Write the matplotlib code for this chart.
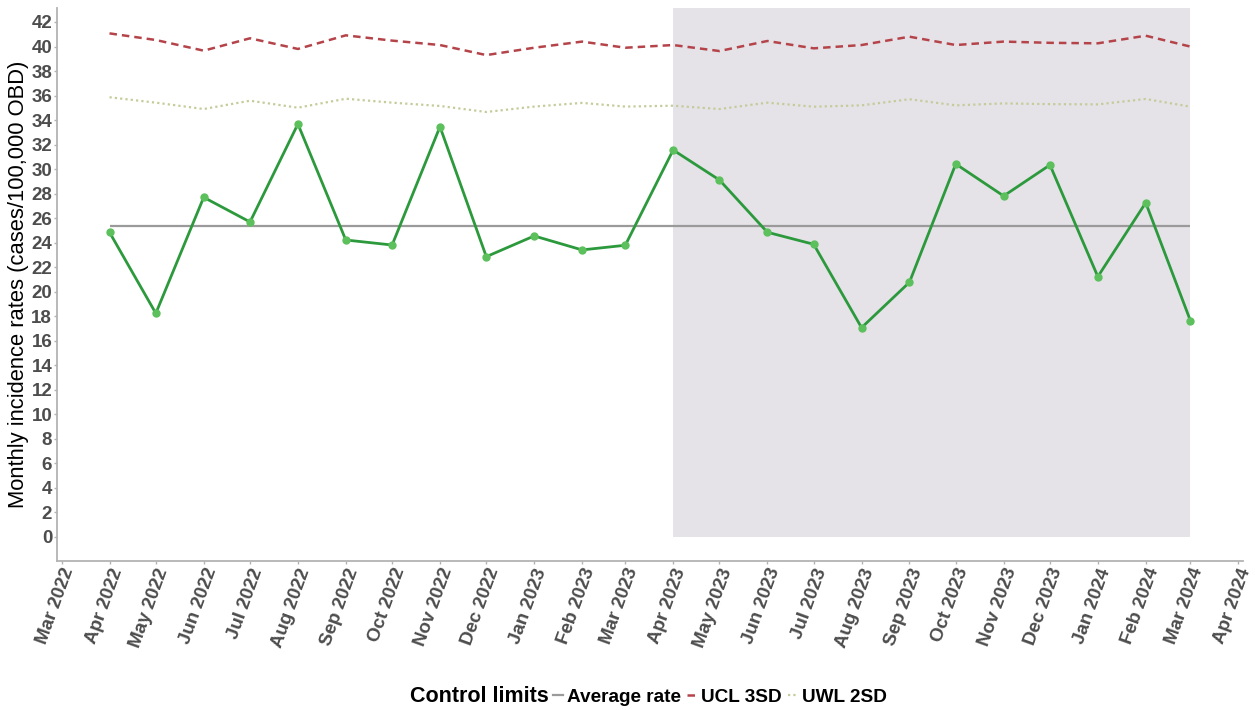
import matplotlib
matplotlib.use("Agg")
import matplotlib.pyplot as plt
import matplotlib.dates as mdates
from matplotlib.lines import Line2D
import pandas as pd

months = pd.date_range("2022-04-01", "2024-03-01", freq="MS")
incidence = [24.85, 18.24, 27.70, 25.69, 33.68, 24.22, 23.81, 33.46, 22.86, 24.55, 23.41, 23.79,
             31.56, 29.11, 24.85, 23.87, 17.07, 20.77, 30.42, 27.81, 30.34, 21.23, 27.26, 17.62]
ucl = [41.07, 40.53, 39.66, 40.67, 39.80, 40.91, 40.48, 40.12, 39.30, 39.90, 40.40, 39.90,
       40.12, 39.63, 40.45, 39.85, 40.12, 40.80, 40.12, 40.40, 40.30, 40.26, 40.88, 39.99]
uwl = [35.86, 35.42, 34.90, 35.58, 35.01, 35.74, 35.42, 35.15, 34.66, 35.10, 35.40, 35.10,
       35.17, 34.90, 35.42, 35.09, 35.20, 35.70, 35.20, 35.36, 35.30, 35.28, 35.72, 35.09]
average_rate = 25.38
shade_start = "2023-04-01"
shade_end = "2024-03-01"
y_ticks = list(range(0, 43, 2))

plt.rcParams['font.family'] = ['Liberation Sans', 'DejaVu Sans']

fig = plt.figure(figsize=(12.55, 7.10), dpi=100)
ax = fig.add_axes([57/1255, 1-561/710, (1243-57)/1255, (561-8)/710])

ymin, ymax = -1.96, 43.14
ax.fill_between([pd.Timestamp(shade_start), pd.Timestamp(shade_end)], 0, ymax,
                color='#e5e3e8', lw=0, zorder=0)

ax.plot(months, ucl, color='#b5444a', lw=1.8, linestyle=(0, (3, 2)), zorder=2)
ax.plot(months, uwl, color='#c5cc9a', lw=1.6, linestyle=(0, (1, 1.4)), zorder=2)
ax.hlines(average_rate, months[0], months[-1], color='#9a9a9a', lw=1.6, zorder=2)
ax.plot(months, incidence, color='#2c9a3c', lw=2.0, zorder=3,
        marker='o', markersize=5, markerfacecolor='#5cc05c', markeredgecolor='#5cc05c')

ax.set_ylim(ymin, ymax)
ax.set_xlim(pd.Timestamp("2022-03-01") - pd.Timedelta(days=3),
            pd.Timestamp("2024-04-01") + pd.Timedelta(days=3))
ax.set_yticks(y_ticks)
ax.xaxis.set_major_locator(mdates.MonthLocator())
ax.xaxis.set_major_formatter(mdates.DateFormatter("%b %Y"))

for s in ['top', 'right']:
    ax.spines[s].set_visible(False)
for s in ['left', 'bottom']:
    ax.spines[s].set_color('#b3b3b3')
    ax.spines[s].set_linewidth(1.3)

ax.tick_params(axis='both', colors='#b3b3b3', length=2.5, width=1, pad=1)
for lab in ax.get_yticklabels():
    lab.set_fontsize(13.5)
    lab.set_fontweight('bold')
    lab.set_color('#4d4d4d')
for lab in ax.get_xticklabels():
    lab.set_fontsize(13.5)
    lab.set_fontweight('bold')
    lab.set_color('#4d4d4d')
    lab.set_rotation(70)
    lab.set_ha('right')
    lab.set_va('top')
    lab.set_rotation_mode('anchor')

ax.set_ylabel("Monthly incidence rates (cases/100,000 OBD)", fontsize=15.8, color='black')
ax.yaxis.set_label_coords(-0.0236, 0.5)

fig.text(549/1255, 1-697/710, "Control limits", ha='right', va='center',
         fontsize=15.5, fontweight='bold', color='black')
handles = [
    Line2D([], [], color='#9a9a9a', lw=1.6),
    Line2D([], [], color='#b5444a', lw=1.8, linestyle=(0, (3, 2))),
    Line2D([], [], color='#c5cc9a', lw=1.6, linestyle=(0, (1, 1.4))),
]
leg = fig.legend(handles, ["Average rate", "UCL 3SD", "UWL 2SD"], ncol=3,
                 loc='center left', bbox_to_anchor=(553/1255, 1-697/710),
                 frameon=False, handlelength=0.5, handletextpad=0.25,
                 columnspacing=0.3, borderaxespad=0, borderpad=0,
                 prop={'size': 13.7, 'weight': 'bold'})

fig.savefig("out.png", dpi=100, facecolor='white')
